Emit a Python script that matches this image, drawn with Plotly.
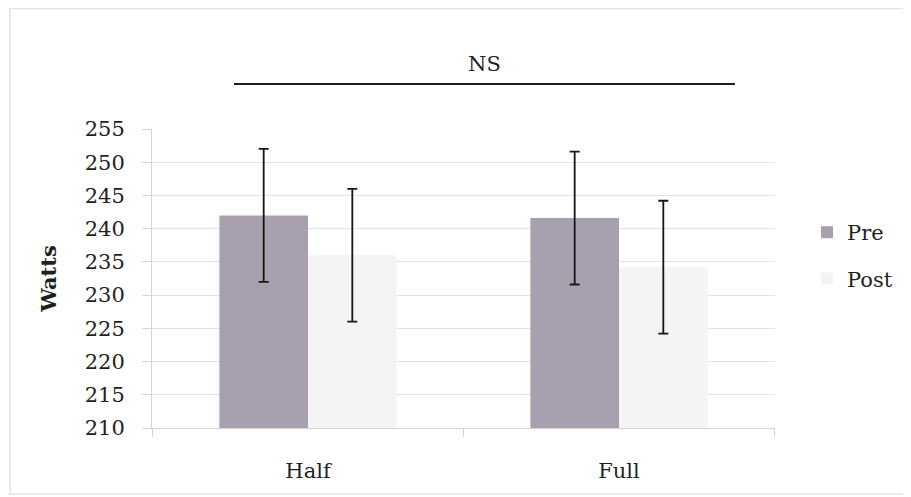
import plotly.graph_objects as go

categories = ["Half", "Full"]
pre_values = [242.0, 241.6]
pre_err = [10.0, 10.0]
post_values = [236.0, 234.2]
post_err = [10.0, 10.0]
y_ticks = [210, 215, 220, 225, 230, 235, 240, 245, 250, 255]

FONT = "DejaVu Serif"
TXT = "#231f20"

fig = go.Figure()
fig.add_trace(go.Bar(
    name="Pre", x=categories, y=pre_values, legendgroup="pre",
    marker=dict(color="#a9a0af", line=dict(width=0)),
    error_y=dict(type="data", array=pre_err, visible=True, color="#1a1415", thickness=1.8, width=5),
))
fig.add_trace(go.Bar(
    name="Post", x=categories, y=post_values, legendgroup="post",
    marker=dict(color="#f4f3f5", line=dict(width=0)),
    error_y=dict(type="data", array=post_err, visible=True, color="#1a1415", thickness=1.8, width=5),
))

OFF = 8  # page body margin
W, H = 911 - OFF, 497 - OFF
L = 152 - OFF
T = 129 - OFF
Rr = W - (775 - OFF)
B = H - (428 - OFF)
pw = W - L - Rr
ph = H - T - B

def px(xs):
    return (xs - OFF - L) / pw

def py(ys):
    return (H - B - (ys - OFF)) / ph

fig.update_layout(
    width=W, height=H,
    margin=dict(l=L, r=Rr, t=T, b=B),
    paper_bgcolor="white", plot_bgcolor="white",
    barmode="group", bargap=0.43, bargroupgap=0,
    font=dict(family=FONT, size=21, color=TXT),
    legend=dict(x=px(807), y=py(212), xanchor="left", yanchor="top",
                font=dict(family=FONT, size=21, color=TXT),
                tracegroupgap=16, bgcolor="rgba(0,0,0,0)"),
    xaxis=dict(showgrid=False, showline=True, linecolor="#d4d4d4", linewidth=1,
               ticks="", ticklabelstandoff=24,
               tickfont=dict(family=FONT, size=21, color=TXT)),
    yaxis=dict(range=[210, 255], tickvals=y_ticks, showgrid=True, gridcolor="#e2e2e2",
               showline=True, linecolor="#d4d4d4", linewidth=1, zeroline=False,
               ticks="outside", ticklen=9, tickcolor="#d4d4d4", ticklabelstandoff=13,
               tickfont=dict(family=FONT, size=21, color=TXT),
               title=dict(text="<b>Watts</b>", standoff=22,
                          font=dict(family=FONT, size=21, color=TXT))),
    showlegend=True,
)

# category boundary tick marks below x axis
for xv in [-0.5, 0.5, 1.5]:
    fig.add_shape(type="line", xref="x", yref="paper", x0=xv, x1=xv,
                  y0=0, y1=py(437), line=dict(color="#d4d4d4", width=1))

# NS significance bar
fig.add_shape(type="line", xref="paper", yref="paper", x0=px(234), x1=px(735),
              y0=py(84), y1=py(84), line=dict(color="#231f20", width=2))
fig.add_annotation(text="NS", xref="paper", yref="paper", x=px(484), y=py(64),
                   xanchor="center", yanchor="middle",
                   showarrow=False, font=dict(family=FONT, size=21, color=TXT))

# outer chart frame
fig.add_shape(type="rect", xref="paper", yref="paper", x0=px(10), x1=px(909),
              y0=py(494), y1=py(8.5), line=dict(color="#e4e4e4", width=1.5), layer="below")

fig.write_html("out.html")
